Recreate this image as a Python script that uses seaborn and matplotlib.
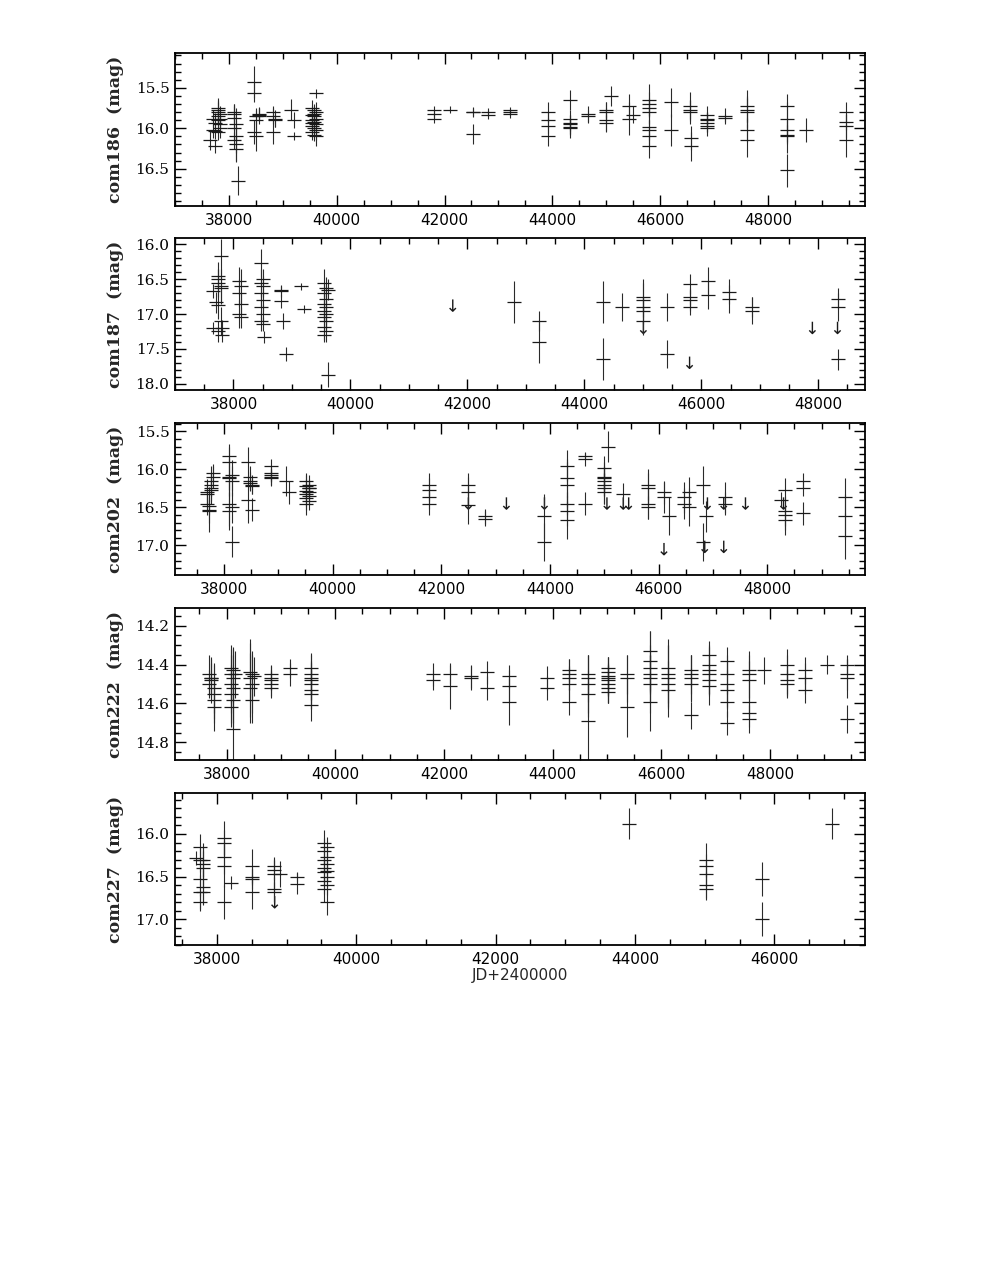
import numpy as np
import matplotlib
matplotlib.use("Agg")
import matplotlib.pyplot as plt
from matplotlib.ticker import MultipleLocator, FormatStrFormatter
import seaborn as sns

# ---- com186 ----
jd186 = [37650, 37700, 37700, 37750, 37750, 37750, 37790, 37790, 37790, 37790, 37790, 37790, 37830, 37830, 37830, 37830,
         38100, 38100, 38140, 38100, 38140, 38100, 38140, 38140, 38100, 38170,
         38460, 38460, 38500, 38500, 38500, 38460, 38560, 38560, 38560,
         38820, 38820, 38850, 38850, 38820, 39150, 39200, 39200,
         39540, 39580, 39620, 39540, 39580, 39620, 39540, 39580, 39620, 39540, 39580, 39620, 39540, 39580, 39620, 39580, 39620, 39540,
         41800, 41800, 41800, 42100, 42520, 42520, 42520, 42800, 42800, 43220, 43220, 43220,
         43920, 43920, 43920, 43920, 44330, 44330, 44330, 44330, 44330, 44330, 44660, 44660,
         45000, 45000, 45000, 45000, 45080, 45420, 45420, 45500,
         45800, 45800, 45800, 45800, 45800, 45800, 45800, 45800, 46200, 46200, 46550, 46550, 46550, 46580, 46580,
         46870, 46870, 46870, 46870, 46870, 46870, 47200, 47200,
         47620, 47620, 47620, 47620, 47620, 48350, 48350, 48350, 48350, 48350, 48350, 48700,
         49440, 49440, 49440, 49440]
mag186 = [16.15, 15.88, 16.02, 16.03, 15.93, 16.22, 15.75, 15.80, 15.85, 15.90, 15.78, 16.05, 15.82, 15.88, 15.95, 16.00,
          15.82, 15.87, 15.95, 16.00, 16.10, 16.15, 16.20, 16.25, 15.80, 16.65,
          15.43, 15.56, 15.85, 15.90, 16.10, 16.05, 15.82, 15.85, 15.83,
          15.80, 15.85, 15.88, 15.90, 16.05, 15.77, 15.90, 16.10,
          15.75, 15.78, 15.80, 15.83, 15.85, 15.88, 15.90, 15.92, 15.95, 15.97, 16.00, 16.02, 16.05, 16.08, 16.10, 15.82, 15.57, 15.93,
          15.78, 15.82, 15.88, 15.77, 15.80, 15.80, 16.07, 15.80, 15.83, 15.80, 15.82, 15.78,
          15.90, 15.80, 15.97, 16.10, 15.65, 15.88, 15.93, 15.95, 15.98, 16.00, 15.82, 15.85,
          15.80, 15.77, 15.90, 15.93, 15.60, 15.73, 15.88, 15.83,
          15.65, 15.70, 15.75, 15.80, 15.98, 16.02, 16.10, 16.22, 15.68, 16.02, 15.73, 15.77, 15.80, 16.12, 16.22,
          15.83, 15.88, 15.90, 15.93, 15.97, 16.00, 15.85, 15.87,
          15.73, 15.77, 15.80, 16.02, 16.15, 15.73, 15.88, 16.02, 16.08, 16.10, 16.52, 16.02,
          15.80, 15.92, 15.97, 16.15]
err186 = [0.12, 0.10, 0.10, 0.10, 0.12, 0.08, 0.10, 0.12, 0.10, 0.10, 0.15, 0.10, 0.10, 0.10, 0.10, 0.12,
          0.12, 0.15, 0.20, 0.15, 0.20, 0.10, 0.22, 0.15, 0.10, 0.18,
          0.20, 0.12, 0.10, 0.12, 0.18, 0.15, 0.08, 0.10, 0.08,
          0.08, 0.10, 0.10, 0.08, 0.15, 0.13, 0.10, 0.05,
          0.10, 0.08, 0.12, 0.10, 0.10, 0.12, 0.10, 0.10, 0.12, 0.10, 0.10, 0.12, 0.10, 0.08, 0.12, 0.10, 0.05, 0.10,
          0.06, 0.05, 0.06, 0.04, 0.05, 0.06, 0.12, 0.05, 0.05, 0.04, 0.05, 0.04,
          0.10, 0.12, 0.10, 0.12, 0.12, 0.10, 0.10, 0.12, 0.10, 0.12, 0.10, 0.08,
          0.12, 0.10, 0.15, 0.10, 0.12, 0.15, 0.20, 0.10,
          0.20, 0.15, 0.12, 0.15, 0.10, 0.12, 0.12, 0.15, 0.18, 0.20, 0.18, 0.12, 0.15, 0.15, 0.18,
          0.10, 0.08, 0.10, 0.12, 0.08, 0.10, 0.10, 0.05,
          0.20, 0.15, 0.20, 0.15, 0.20, 0.15, 0.20, 0.15, 0.12, 0.20, 0.20, 0.15,
          0.12, 0.10, 0.15, 0.20]
lim_jd186 = []
lim_mag186 = []

# ---- com187 ----
jd187 = [37650, 37650, 37700, 37740, 37740, 37740, 37780, 37780, 37780, 37740, 37780, 37740, 37800, 37800,
         38100, 38130, 38100, 38130, 38100, 38130,
         38470, 38500, 38470, 38500, 38470, 38500, 38470, 38500, 38470, 38500, 38530,
         38820, 38820, 38820, 38850, 38900, 39150, 39200,
         39540, 39580, 39540, 39580, 39540, 39580, 39540, 39580, 39540, 39580, 39540, 39580, 39540, 39620, 39620,
         42800, 43220, 43220, 44320, 44320, 44650, 45000, 45000, 45000, 45000, 45000, 45420, 45420,
         45800, 45800, 45800, 45800, 46120, 46120, 46470, 46470, 46860, 46860,
         48330, 48330, 48330]
mag187 = [16.67, 17.20, 16.83, 16.45, 16.50, 16.55, 16.60, 16.17, 16.62, 16.87, 17.10, 17.25, 17.30, 17.20,
          16.53, 16.60, 16.70, 16.85, 17.00, 17.05,
          16.27, 16.50, 16.55, 16.60, 16.70, 16.80, 16.90, 17.00, 17.10, 17.15, 17.33,
          16.65, 16.67, 16.82, 17.10, 17.57, 16.60, 16.93,
          16.55, 16.62, 16.70, 16.78, 16.85, 16.90, 16.95, 17.00, 17.05, 17.10, 17.18, 17.25, 17.30, 16.65, 17.87,
          16.83, 17.10, 17.40, 16.83, 17.65, 16.90, 16.75, 16.80, 16.90, 16.95, 17.10, 16.90, 17.57,
          16.57, 16.75, 16.80, 16.90, 16.52, 16.73, 16.68, 16.78, 16.90, 16.95,
          16.78, 16.90, 17.65]
err187 = [0.10, 0.08, 0.15, 0.20, 0.15, 0.20, 0.25, 0.25, 0.20, 0.20, 0.20, 0.15, 0.10, 0.12,
          0.20, 0.25, 0.20, 0.15, 0.20, 0.15,
          0.20, 0.15, 0.20, 0.15, 0.20, 0.15, 0.20, 0.15, 0.15, 0.10, 0.08,
          0.05, 0.08, 0.10, 0.12, 0.10, 0.05, 0.06,
          0.20, 0.15, 0.15, 0.20, 0.15, 0.20, 0.15, 0.20, 0.15, 0.15, 0.20, 0.15, 0.10, 0.15, 0.18,
          0.30, 0.15, 0.30, 0.30, 0.30, 0.20, 0.20, 0.30, 0.15, 0.20, 0.20, 0.20, 0.20,
          0.15, 0.12, 0.15, 0.12, 0.20, 0.20, 0.18, 0.20, 0.15, 0.20,
          0.15, 0.20, 0.15]
lim_jd187 = [41750, 45010, 45800, 47900, 48330]
lim_mag187 = [16.88, 17.20, 17.70, 17.20, 17.20]

# ---- com202 ----
jd202 = [37680, 37680, 37680, 37720, 37720, 37760, 37760, 37760, 37760, 37800, 37800, 37720,
         38100, 38100, 38140, 38100, 38140, 38100, 38140, 38100, 38140, 38100,
         38450, 38480, 38480, 38480, 38520, 38520, 38450, 38520,
         38870, 38870, 38870, 38870, 38870, 39150, 39200,
         39520, 39560, 39520, 39560, 39520, 39560, 39520, 39560, 39520, 39560, 39520, 39560,
         41770, 41770, 41770, 41770, 42500, 42500, 42500, 42800, 42800, 43900, 43900,
         44320, 44320, 44320, 44320, 44320, 44320, 44650, 44650, 44650, 45000, 45000, 45000, 45000, 45000, 45000, 45000, 45070,
         45350, 45800, 45800, 45800, 45800, 46100, 46100, 46200, 46460, 46460, 46560, 46560,
         46820, 46820, 46870, 47220, 47220, 48250, 48320, 48320, 48320, 48320, 48660, 48660, 48660, 49430, 49430, 49430]
mag202 = [16.30, 16.33, 16.45, 16.48, 16.53, 16.20, 16.15, 16.25, 16.27, 16.10, 16.05, 16.55,
          15.82, 15.90, 16.08, 16.12, 16.15, 16.45, 16.50, 16.55, 16.95, 16.10,
          15.90, 16.10, 16.15, 16.18, 16.20, 16.22, 16.40, 16.53,
          15.95, 16.05, 16.08, 16.10, 16.12, 16.15, 16.30,
          16.15, 16.20, 16.22, 16.25, 16.28, 16.30, 16.33, 16.35, 16.38, 16.42, 16.45, 16.25,
          16.20, 16.27, 16.37, 16.45, 16.20, 16.30, 16.47, 16.62, 16.65, 16.95, 16.62,
          15.95, 16.12, 16.20, 16.45, 16.55, 16.67, 15.82, 15.87, 16.45, 15.98, 16.10, 16.12, 16.15, 16.20, 16.25, 16.30, 15.70,
          16.33, 16.20, 16.25, 16.45, 16.50, 16.30, 16.37, 16.62, 16.37, 16.45, 16.30, 16.50,
          16.20, 16.95, 16.62, 16.37, 16.45, 16.40, 16.27, 16.55, 16.60, 16.67, 16.15, 16.25, 16.58, 16.37, 16.62, 16.88]
err202 = [0.15, 0.20, 0.15, 0.12, 0.30, 0.15, 0.20, 0.20, 0.15, 0.15, 0.12, 0.15,
          0.15, 0.20, 0.20, 0.15, 0.20, 0.30, 0.20, 0.25, 0.20, 0.25,
          0.20, 0.15, 0.12, 0.10, 0.12, 0.10, 0.30, 0.15,
          0.08, 0.10, 0.08, 0.10, 0.10, 0.20, 0.15,
          0.10, 0.12, 0.15, 0.12, 0.15, 0.12, 0.15, 0.12, 0.15, 0.12, 0.15, 0.10,
          0.15, 0.15, 0.15, 0.15, 0.15, 0.20, 0.25, 0.10, 0.10, 0.25, 0.30,
          0.20, 0.25, 0.30, 0.15, 0.20, 0.25, 0.05, 0.08, 0.15, 0.15, 0.20, 0.15, 0.20, 0.15, 0.20, 0.15, 0.20,
          0.15, 0.20, 0.20, 0.20, 0.15, 0.15, 0.20, 0.25, 0.20, 0.20, 0.20, 0.25,
          0.25, 0.25, 0.20, 0.20, 0.15, 0.10, 0.15, 0.20, 0.20, 0.20, 0.10, 0.10, 0.15, 0.25, 0.30, 0.30]
lim_jd202 = [42500, 43200, 43900, 45050, 45350, 45450, 46100, 46850, 46900, 47200, 47200, 47600, 48300]
lim_mag202 = [16.45, 16.45, 16.45, 16.45, 16.45, 16.45, 17.05, 17.02, 16.45, 16.45, 17.02, 16.45, 16.45]

# ---- com222 ----
jd222 = [37680, 37720, 37680, 37720, 37760, 37760, 37760, 37760, 37720,
         38080, 38120, 38080, 38120, 38080, 38120, 38080, 38120, 38080, 38120, 38160,
         38430, 38470, 38430, 38470, 38430, 38470, 38500,
         38820, 38820, 38820, 38820, 38820, 39160, 39160, 39550, 39550, 39550, 39550, 39550, 39550, 39550, 39550,
         41790, 41790, 42110, 42110, 42490, 42490, 42790, 42790, 43200, 43200, 43200, 43890, 43890,
         44310, 44310, 44310, 44310, 44310, 44660, 44660, 44660, 44660, 44660,
         45020, 45020, 45020, 45020, 45020, 45020, 45020, 45020, 45370, 45370, 45370,
         45790, 45790, 45790, 45790, 45790, 45790, 45790, 46130, 46130, 46130, 46130, 46130,
         46540, 46540, 46540, 46540, 46540, 46880, 46880, 46880, 46880, 46880, 46880,
         47210, 47210, 47210, 47210, 47210, 47210, 47610, 47610, 47610, 47610, 47610, 47610, 47900,
         48310, 48310, 48310, 48310, 48650, 48650, 48650, 49050, 49420, 49420, 49420, 49420]
mag222 = [14.50, 14.47, 14.45, 14.48, 14.52, 14.55, 14.58, 14.62, 14.47,
          14.42, 14.43, 14.45, 14.47, 14.50, 14.52, 14.55, 14.58, 14.62, 14.73, 14.45,
          14.44, 14.45, 14.47, 14.50, 14.52, 14.58, 14.46,
          14.45, 14.47, 14.48, 14.50, 14.52, 14.42, 14.45, 14.42, 14.45, 14.47, 14.48, 14.50, 14.53, 14.55, 14.61,
          14.45, 14.48, 14.45, 14.51, 14.46, 14.47, 14.44, 14.52, 14.46, 14.51, 14.59, 14.47, 14.52,
          14.43, 14.45, 14.47, 14.50, 14.59, 14.45, 14.47, 14.50, 14.55, 14.69,
          14.42, 14.44, 14.46, 14.48, 14.50, 14.52, 14.54, 14.47, 14.45, 14.47, 14.62,
          14.33, 14.38, 14.42, 14.45, 14.47, 14.50, 14.59, 14.42, 14.45, 14.47, 14.50, 14.53,
          14.43, 14.45, 14.47, 14.50, 14.66, 14.35, 14.40, 14.43, 14.45, 14.48, 14.51,
          14.38, 14.45, 14.50, 14.53, 14.59, 14.70, 14.43, 14.45, 14.48, 14.59, 14.65, 14.68, 14.43,
          14.40, 14.45, 14.48, 14.50, 14.43, 14.47, 14.53, 14.40, 14.40, 14.45, 14.47, 14.68]
err222 = [0.07, 0.08, 0.10, 0.12, 0.13, 0.15, 0.10, 0.12, 0.10,
          0.10, 0.12, 0.15, 0.12, 0.15, 0.20, 0.15, 0.12, 0.10, 0.18, 0.12,
          0.15, 0.12, 0.20, 0.15, 0.18, 0.12, 0.10,
          0.05, 0.06, 0.05, 0.06, 0.05, 0.05, 0.06, 0.08, 0.10, 0.08, 0.10, 0.08, 0.10, 0.08, 0.08,
          0.06, 0.05, 0.05, 0.12, 0.06, 0.06, 0.06, 0.06, 0.06, 0.08, 0.12, 0.06, 0.06,
          0.06, 0.08, 0.06, 0.08, 0.07, 0.10, 0.12, 0.15, 0.12, 0.20,
          0.06, 0.08, 0.10, 0.08, 0.10, 0.08, 0.06, 0.08, 0.10, 0.12, 0.15,
          0.10, 0.15, 0.12, 0.10, 0.12, 0.15, 0.15, 0.12, 0.15, 0.20, 0.12, 0.10,
          0.08, 0.10, 0.12, 0.08, 0.07, 0.07, 0.10, 0.12, 0.10, 0.08, 0.10,
          0.07, 0.10, 0.12, 0.10, 0.08, 0.06, 0.08, 0.12, 0.10, 0.08, 0.07, 0.07, 0.07,
          0.08, 0.10, 0.08, 0.07, 0.07, 0.08, 0.07, 0.05, 0.05, 0.08, 0.10, 0.07]
lim_jd222 = []
lim_mag222 = []

# ---- com227 ----
jd227 = [37700, 37760, 37760, 37760, 37760, 37760, 37800, 37800, 37800, 37800, 37800,
         38100, 38100, 38100, 38100, 38100, 38200,
         38500, 38500, 38500, 38500,
         38820, 38820, 38820, 38820, 38820, 38900, 39150, 39150,
         39540, 39580, 39540, 39580, 39540, 39580, 39540, 39580, 39540, 39580, 39540, 39580, 39540, 39580,
         43920, 45020, 45020, 45020, 45020, 45020, 45820, 45820, 46820]
mag227 = [16.28, 16.15, 16.30, 16.53, 16.68, 16.80, 16.30, 16.40, 16.62, 16.68, 16.35,
          16.05, 16.10, 16.27, 16.37, 16.80, 16.57,
          16.37, 16.50, 16.53, 16.68,
          16.37, 16.42, 16.47, 16.65, 16.68, 16.47, 16.50, 16.58,
          16.10, 16.15, 16.20, 16.27, 16.30, 16.35, 16.40, 16.43, 16.45, 16.50, 16.55, 16.60, 16.65, 16.80,
          15.88, 16.30, 16.38, 16.47, 16.60, 16.65, 16.53, 17.00, 15.88]
err227 = [0.08, 0.15, 0.15, 0.20, 0.20, 0.10, 0.20, 0.25, 0.20, 0.15, 0.15,
          0.20, 0.15, 0.20, 0.25, 0.20, 0.08,
          0.20, 0.10, 0.12, 0.20,
          0.08, 0.12, 0.20, 0.15, 0.12, 0.15, 0.06, 0.12,
          0.15, 0.12, 0.15, 0.12, 0.15, 0.12, 0.15, 0.12, 0.15, 0.12, 0.15, 0.12, 0.15, 0.15,
          0.18, 0.20, 0.15, 0.15, 0.15, 0.12, 0.20, 0.20, 0.18]
lim_jd227 = [38830]
lim_mag227 = [16.80]

labels = ["com186", "com187", "com202", "com222", "com227"]
series = [(jd186, mag186, err186, lim_jd186, lim_mag186),
          (jd187, mag187, err187, lim_jd187, lim_mag187),
          (jd202, mag202, err202, lim_jd202, lim_mag202),
          (jd222, mag222, err222, lim_jd222, lim_mag222),
          (jd227, mag227, err227, lim_jd227, lim_mag227)]
xlims = [(37000, 49800), (37000, 48800), (37100, 49800), (37050, 49750), (37400, 47300)]
ylims = [(16.96, 15.07), (18.09, 15.91), (17.39, 15.39), (14.89, 14.11), (17.30, 15.52)]
ymajor = [0.5, 0.5, 0.5, 0.2, 0.5]
yminor = [0.1, 0.1, 0.1, 0.05, 0.1]

sns.set_style("ticks")
plt.rcParams["font.family"] = ["DejaVu Sans"]

W, H = 981, 1269
fig = plt.figure(figsize=(W / 100, H / 100), dpi=100)
frames = [(53, 206), (238, 390), (423, 575), (608, 760), (793, 945)]
left, right = 175, 865

for i, (top, bot) in enumerate(frames):
    ax = fig.add_axes([left / W, 1 - bot / H, (right - left) / W, (bot - top) / H])
    jd, mag, err, ljd, lmag = series[i]
    ax.errorbar(jd, mag, yerr=err, fmt="_", color="#1a1a1a", ecolor="#2a2a2a",
                elinewidth=0.8, markersize=10, markeredgewidth=0.9, capsize=0)
    if ljd:
        sns.scatterplot(x=ljd, y=lmag, ax=ax, marker=r"$\downarrow$", s=80,
                        color="#1a1a1a", edgecolor="none", linewidth=0, legend=False)
    ax.set_xlim(*xlims[i])
    ax.set_ylim(*ylims[i])
    ax.xaxis.set_major_locator(MultipleLocator(2000))
    ax.xaxis.set_minor_locator(MultipleLocator(500))
    ax.yaxis.set_major_locator(MultipleLocator(ymajor[i]))
    ax.yaxis.set_minor_locator(MultipleLocator(yminor[i]))
    ax.yaxis.set_major_formatter(FormatStrFormatter("%.1f"))
    ax.tick_params(which="both", direction="in", top=True, right=True, width=1.0, colors="black")
    ax.tick_params(which="major", length=8)
    ax.tick_params(which="minor", length=4)
    ax.tick_params(axis="x", labelsize=11, pad=5)
    ax.tick_params(axis="y", labelsize=11, pad=4)
    for lab in ax.get_yticklabels():
        lab.set_family("DejaVu Serif")
    for sp in ax.spines.values():
        sp.set_linewidth(1.3)
        sp.set_color("black")
    ax.set_ylabel(labels[i] + "  (mag)", fontsize=12.5, fontweight="bold",
                  family="DejaVu Serif", labelpad=8)
    if i == 4:
        ax.set_xlabel("JD+2400000", fontsize=11, labelpad=1)

fig.savefig("out.png", dpi=100, facecolor="white")
